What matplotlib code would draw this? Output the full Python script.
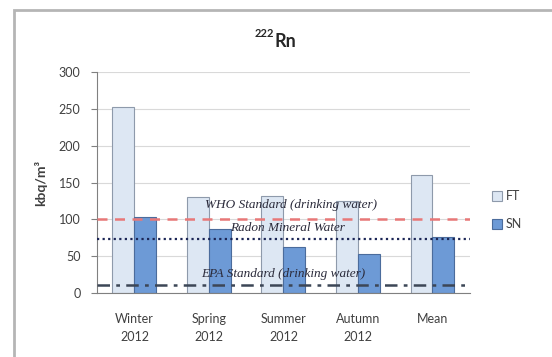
import matplotlib.pyplot as plt
from matplotlib.patches import Rectangle
import numpy as np

categories = ["Winter\n2012", "Spring\n2012", "Summer\n2012", "Autumn\n2012", "Mean"]
ft_values = [253, 130, 132, 125, 160]
sn_values = [103, 87, 62, 53, 76]
yticks = [0, 50, 100, 150, 200, 250, 300]
who_level = 100
radon_level = 74
epa_level = 11

plt.rcParams['font.family'] = ['Lato', 'DejaVu Sans']

fig = plt.figure(figsize=(5.52, 3.57), dpi=100)
ax = fig.add_axes([0.176, 0.179, 0.675, 0.619])

# chart frame
fig.patches.append(Rectangle((14/552, -0.1), 1.2, 1 - 10/357 + 0.1, transform=fig.transFigure,
                             fill=False, edgecolor="#b5b5b5", linewidth=2))

x = np.arange(len(categories))
w = 0.295
ax.bar(x - w/2, ft_values, w, color="#dde7f3", edgecolor="#8e9aab", linewidth=0.8, label="FT", zorder=2)
ax.bar(x + w/2, sn_values, w, color="#6d9ad6", edgecolor="#4b6c9c", linewidth=0.8, label="SN", zorder=2)

ax.axhline(who_level, color="#e87878", linestyle=(0, (4, 3)), linewidth=1.8, zorder=3)
ax.axhline(radon_level, color="#1c2656", linestyle=(0, (1, 1.5)), linewidth=1.6, zorder=3)
ax.axhline(epa_level, color="#3c4656", linestyle=(0, (5, 2.5, 1.5, 2.5)), linewidth=1.8, zorder=3)

tfont = dict(family="Liberation Serif", style="italic", fontsize=9.5, color="#2a2a3a", ha="center", zorder=4)
ax.text(2.1, 119, "WHO Standard (drinking water)", va="center", **tfont)
ax.text(2.05, 88, "Radon Mineral Water", va="center", **tfont)
ax.text(2.0, 26, "EPA Standard (drinking water)", va="center", **tfont)

ax.set_xlim(-0.5, 4.5)
ax.set_ylim(0, 300)
ax.set_yticks(yticks)
ax.set_xticks(x)
ax.set_xticklabels(categories, linespacing=1.6)
ax.yaxis.grid(True, color="#d9d9d9", linewidth=0.8, zorder=0)
ax.set_axisbelow(True)
for s in ["top", "right"]:
    ax.spines[s].set_visible(False)
ax.spines["left"].set_color("#808080")
ax.spines["bottom"].set_color("#808080")
ax.tick_params(axis="y", length=4, color="#808080", labelsize=9, labelcolor="#404040", pad=8)
ax.tick_params(axis="x", length=0, labelsize=9, labelcolor="#404040", pad=14)

ax.set_ylabel("kbq/m³", fontsize=10, fontweight="bold", color="#404040", labelpad=8)

# title: small superscript mass number + element symbol
fig.text(0.498, 0.884, "Rn", ha="left", va="center", fontsize=13, fontweight="bold", color="#262626")
fig.text(0.496, 0.905, "222", ha="right", va="center", fontsize=8, fontweight="bold", color="#262626")

ax.legend(loc="center left", bbox_to_anchor=(1.03, 0.375), frameon=False, fontsize=9,
          handlelength=0.8, handleheight=0.8, labelspacing=1.3, handletextpad=0.3, labelcolor="#404040")

fig.savefig("out.png", dpi=100)
